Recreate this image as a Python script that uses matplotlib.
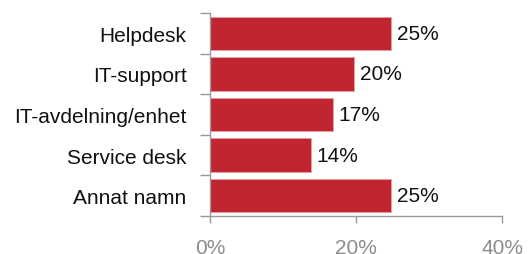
import matplotlib.pyplot as plt
import numpy as np

# data
kategorier = ["Helpdesk", "IT-support", "IT-avdelning/enhet", "Service desk", "Annat namn"]
andel = [24.8, 19.7, 16.8, 13.8, 24.8]
etiketter = ["25%", "20%", "17%", "14%", "25%"]
x_ticks = [0, 20, 40]
x_ticklabels = ["0%", "20%", "40%"]

plt.rcParams['font.family'] = ['Liberation Sans', 'DejaVu Sans']

fig = plt.figure(figsize=(5.31, 2.55), dpi=100)
ax = fig.add_axes([0.3955, 0.149, 0.5499, 0.796])

y = np.arange(len(kategorier))
bars = ax.barh(y, andel, height=0.82, color="#C1252F", edgecolor="#E8A0A4", linewidth=0.6)

for b, txt in zip(bars, etiketter):
    ax.text(b.get_width() + 0.8, b.get_y() + b.get_height() / 2, txt,
            va="center", ha="left", fontsize=15, color="#111111")

ax.set_xlim(0, 40)
ax.set_ylim(len(kategorier) - 0.5, -0.5)

ax.set_yticks(y)
ax.set_yticklabels(kategorier, fontsize=15, color="#111111")
ax.set_yticks(np.arange(-0.5, len(kategorier)), minor=True)
ax.tick_params(axis="y", which="major", length=0, pad=17)
ax.tick_params(axis="y", which="minor", length=7, color="#9a9a9a", width=1)

ax.set_xticks(x_ticks)
ax.set_xticklabels(x_ticklabels, fontsize=15, color="#8c8c8c")
ax.tick_params(axis="x", direction="out", length=5, color="#9a9a9a", width=1, pad=11)

for s in ["top", "right"]:
    ax.spines[s].set_visible(False)
for s in ["left", "bottom"]:
    ax.spines[s].set_color("#9a9a9a")
    ax.spines[s].set_linewidth(1)

fig.savefig("out.png", dpi=100)
